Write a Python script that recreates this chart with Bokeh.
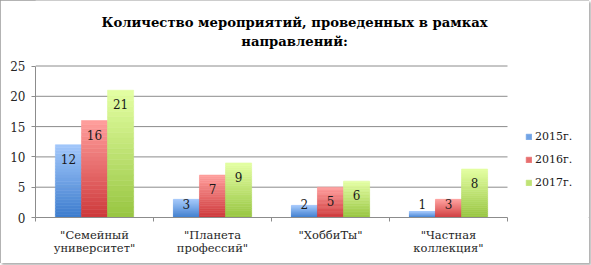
from bokeh.plotting import figure
from bokeh.models import (Range1d, LinearAxis, FixedTicker, Label,
                          ColumnDataSource, Legend, LegendItem)
from bokeh.core.properties import value
from bokeh.embed import file_html
from bokeh.resources import INLINE

# ---- data ----
categories = ['"Семейный\nуниверситет"', '"Планета\nпрофессий"', '"ХоббиТы"', '"Частная\nколлекция"']
years = ["2015г.", "2016г.", "2017г."]
v2015 = [12, 3, 2, 1]
v2016 = [16, 7, 5, 3]
v2017 = [21, 9, 6, 8]
y_ticks = [0, 5, 10, 15, 20, 25]
title_lines = ["Количество мероприятий, проведенных в рамках", "направлений:"]

FONT = "DejaVu Serif"
GRAY = "#8c8c8c"
n = len(categories)
y_max = y_ticks[-1]
centers = [i + 0.5 for i in range(n)]
bounds = list(range(n + 1))

# ---- layout (pixels) ----
W_FIG, H_FIG = 589, 263
LEFT, BOTTOM = 35, 46
PLOT_W, PLOT_H = 472.0, 151.5          # size of the category/value area
FRAME_W, FRAME_H = W_FIG - LEFT, H_FIG - BOTTOM
px_x = PLOT_W / n
px_y = PLOT_H / y_max

p = figure(width=W_FIG, height=H_FIG,
           x_range=Range1d(0, FRAME_W / px_x), y_range=Range1d(0, FRAME_H / px_y),
           x_axis_type=None, y_axis_type=None,
           output_backend="svg", toolbar_location=None,
           min_border_left=LEFT, min_border_right=0, min_border_top=0, min_border_bottom=BOTTOM)
p.outline_line_color = None
p.styles = {"outline": "1px solid #9a9a9a", "outline-offset": "-1px",
            "box-shadow": "2px 2px 2px #b0b0b0"}

# title (two centred lines)
for txt, top_px in zip(title_lines, [22, 41]):
    p.add_layout(Label(x=(294 - LEFT) / px_x, y=(FRAME_H - top_px) / px_y, text=txt,
                       text_align="center", text_baseline="middle",
                       text_font=FONT, text_font_size="13.2px", text_font_style="bold",
                       text_color="#000000"))

# y axis
yaxis = LinearAxis(ticker=FixedTicker(ticks=y_ticks), bounds=(0, y_max),
                   axis_line_color=GRAY, major_tick_line_color=GRAY,
                   major_tick_out=4, major_tick_in=0, minor_tick_out=0, minor_tick_in=0,
                   major_label_standoff=6, major_label_text_font=FONT,
                   major_label_text_font_size="12px", major_label_text_color="#262626")
p.add_layout(yaxis, "left")

# horizontal gridlines across the category area
p.segment(x0=[0] * (len(y_ticks) - 1), x1=[n] * (len(y_ticks) - 1),
          y0=y_ticks[1:], y1=y_ticks[1:], line_color=GRAY, line_width=1)

# x axis: labels at category centres, tick marks at category boundaries
xaxis = LinearAxis(ticker=FixedTicker(ticks=centers, minor_ticks=bounds),
                   bounds=(0, n),
                   major_label_overrides={c: lab for c, lab in zip(centers, categories)},
                   axis_line_color=GRAY, major_tick_line_color=None,
                   minor_tick_line_color=GRAY,
                   major_tick_out=0, major_tick_in=0, minor_tick_out=4, minor_tick_in=0,
                   major_label_standoff=6, major_label_text_font=FONT,
                   major_label_text_font_size="11.5px", major_label_text_color="#262626",
                   major_label_text_line_height=0.98)
p.add_layout(xaxis, "below")

# bars with vertical gradient
def h2r(h):
    h = h.lstrip("#")
    return [int(h[i:i + 2], 16) for i in (0, 2, 4)]

def lerp(c0, c1, t):
    a, b = h2r(c0), h2r(c1)
    return "#%02x%02x%02x" % tuple(int(round(a[k] + (b[k] - a[k]) * t)) for k in range(3))

N = 24
W = 0.221
series = [
    (v2015, -W, "#3b7bcd", "#a3c8fb"),
    (v2016, 0.0, "#cd383a", "#ff9f9d"),
    (v2017, W, "#97c541", "#e4ffa3"),
]
items = []
for (vals, off, c_bot, c_top), yr in zip(series, years):
    xs, bots, tops, cols = [], [], [], []
    for c, v in zip(centers, vals):
        for i in range(N):
            xs.append(c + off)
            bots.append(v * i / N)
            tops.append(v * (i + 1) / N)
            cols.append(lerp(c_bot, c_top, (i + 0.5) / N))
    src = ColumnDataSource(dict(x=xs, bottom=bots, top=tops, color=cols))
    r = p.vbar(x="x", bottom="bottom", top="top", width=W,
               fill_color="color", line_color="color", line_width=0.6, source=src)
    items.append(LegendItem(label=yr, renderers=[r], index=N // 2))

    lab = ColumnDataSource(dict(x=[c + off for c in centers],
                                y=[max(v - 2.35, 2.15) for v in vals],
                                t=[str(v) for v in vals]))
    p.text(x="x", y="y", text="t", source=lab,
           text_align="center", text_baseline="middle",
           text_font=value(FONT), text_font_size="12px", text_color="#1a1a1a")

legend = Legend(items=items, location=(490, 25), orientation="vertical",
                glyph_width=7, glyph_height=7, label_standoff=3, spacing=3,
                label_height=20, padding=0, margin=0,
                label_text_font=FONT, label_text_font_size="11px", label_text_color="#1a1a1a",
                border_line_color=None, background_fill_alpha=0)
p.add_layout(legend, "center")

open("out.html", "w").write(file_html(p, INLINE))
